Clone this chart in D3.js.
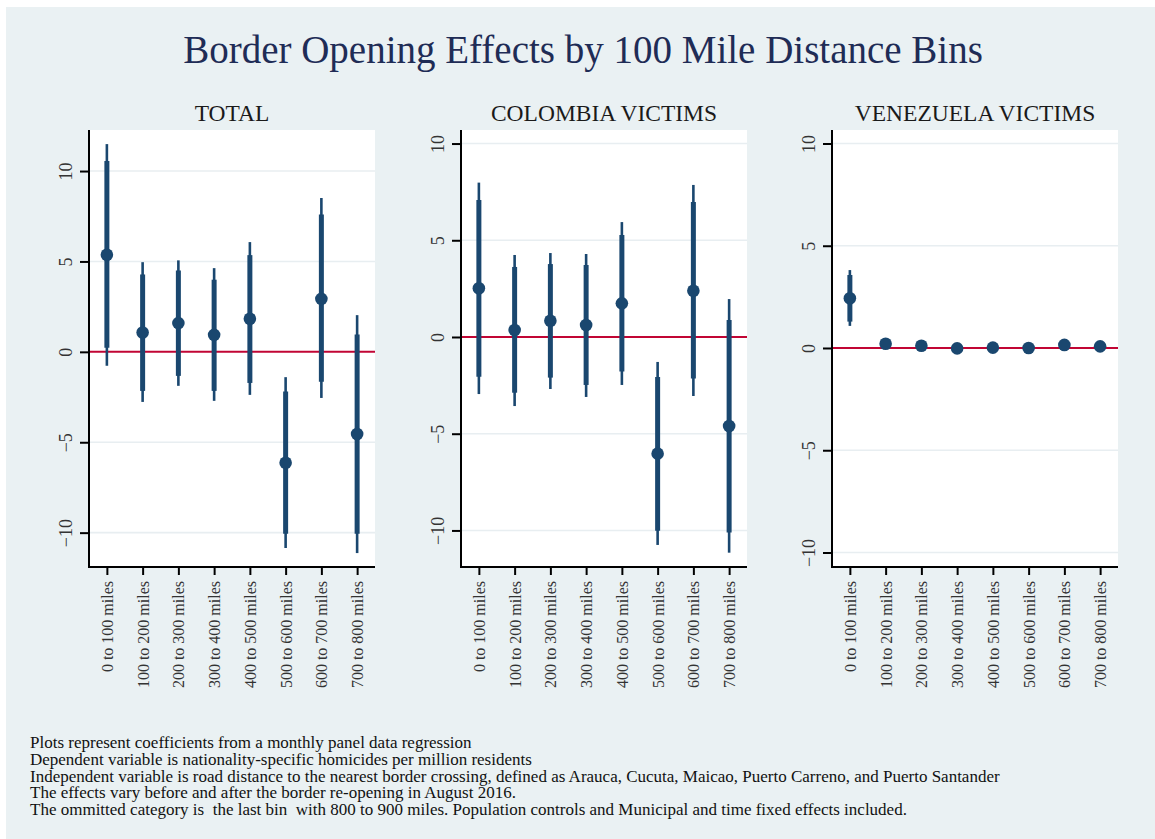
<!DOCTYPE html>
<html>
<head>
<meta charset="utf-8">
<script src="https://cdn.jsdelivr.net/npm/d3@7"></script>
<style>
  html, body { margin: 0; padding: 0; background: #ffffff; }
  svg { display: block; }
  text { font-family: "Liberation Serif", "DejaVu Serif", serif; }
</style>
</head>
<body>
<svg id="chart" width="1155" height="839"></svg>
<script>
// Distance bins (x categories)
const bins = ["0 to 100 miles", "100 to 200 miles", "200 to 300 miles", "300 to 400 miles",
              "400 to 500 miles", "500 to 600 miles", "600 to 700 miles", "700 to 800 miles"];
const yTicks = [-10, -5, 0, 5, 10];
const panelTitles = ["TOTAL", "COLOMBIA VICTIMS", "VENEZUELA VICTIMS"];

// TOTAL: point estimates, 90% (thick) and 95% (thin) intervals
const totalCoef  = [5.37, 1.07, 1.59, 0.94, 1.83, -6.13, 2.93, -4.54];
const totalLo90  = [0.22, -2.16, -1.33, -2.16, -1.72, -10.06, -1.66, -10.06];
const totalHi90  = [10.55, 4.28, 4.50, 3.99, 5.35, -2.20, 7.60, 0.96];
const totalLo95  = [-0.77, -2.77, -1.88, -2.71, -2.38, -10.85, -2.55, -11.13];
const totalHi95  = [11.49, 4.96, 5.06, 4.63, 6.07, -1.40, 8.51, 2.03];
const totalRange = [-11.9, 12.27];

// COLOMBIA VICTIMS
const colCoef  = [2.52, 0.36, 0.84, 0.62, 1.74, -6.03, 2.39, -4.60];
const colLo90  = [-2.05, -2.88, -2.10, -2.48, -1.79, -10.01, -2.15, -10.11];
const colHi90  = [7.08, 3.62, 3.77, 3.72, 5.27, -2.07, 6.98, 0.88];
const colLo95  = [-2.95, -3.57, -2.69, -3.10, -2.48, -10.75, -3.05, -11.15];
const colHi95  = [7.98, 4.24, 4.34, 4.29, 5.94, -1.29, 7.86, 1.96];
const colRange = [-11.89, 10.7];

// VENEZUELA VICTIMS
const venCoef  = [2.43, 0.21, 0.11, -0.02, 0.02, 0.0, 0.15, 0.08];
const venLo90  = [1.29, 0.05, -0.04, -0.15, -0.12, -0.13, 0.01, -0.06];
const venHi90  = [3.57, 0.37, 0.26, 0.11, 0.16, 0.13, 0.29, 0.22];
const venLo95  = [1.08, 0.02, -0.07, -0.18, -0.15, -0.16, -0.02, -0.09];
const venHi95  = [3.81, 0.40, 0.29, 0.14, 0.19, 0.16, 0.32, 0.25];
const venRange = [-10.71, 10.66];

const chartTitle = "Border Opening Effects by 100 Mile Distance Bins";
const notes = [
  "Plots represent coefficients from a monthly panel data regression",
  "Dependent variable is nationality-specific homicides per million residents",
  "Independent variable is road distance to the nearest border crossing, defined as Arauca, Cucuta, Maicao, Puerto Carreno, and Puerto Santander",
  "The effects vary before and after the border re-opening in August 2016.",
  "The ommitted category is  the last bin  with 800 to 900 miles. Population controls and Municipal and time fixed effects included."
];

const panels = [
  { title: panelTitles[0], coef: totalCoef, lo90: totalLo90, hi90: totalHi90, lo95: totalLo95, hi95: totalHi95, range: totalRange },
  { title: panelTitles[1], coef: colCoef,   lo90: colLo90,   hi90: colHi90,   lo95: colLo95,   hi95: colHi95,   range: colRange },
  { title: panelTitles[2], coef: venCoef,   lo90: venLo90,   hi90: venHi90,   lo95: venLo95,   hi95: venHi95,   range: venRange }
];

// Styling and layout
const W = 1155, H = 839;
const bgColor = "#eaf1f3";
const markColor = "#1a476f";
const zeroColor = "#c10534";
const gridColor = "#e8eef1";
const plotLefts = [89, 461, 832];
const plotW = 286, plotTop = 130, plotBottom = 567;

const svg = d3.select("#chart");

svg.append("rect").attr("x", 0).attr("y", 0).attr("width", W).attr("height", H).attr("fill", "#ffffff");
svg.append("rect").attr("x", 6).attr("y", 7).attr("width", W - 6).attr("height", H - 7).attr("fill", bgColor);

svg.append("text")
  .attr("x", 583).attr("y", 63)
  .attr("text-anchor", "middle")
  .attr("font-size", 39)
  .attr("fill", "#1f2c56")
  .text(chartTitle);

panels.forEach((p, i) => {
  const left = plotLefts[i];
  const g = svg.append("g");

  const x = d3.scalePoint().domain(bins).range([left, left + plotW]).padding(0.5);
  const y = d3.scaleLinear().domain(p.range).range([plotBottom, plotTop]);

  // plot area
  g.append("rect")
    .attr("x", left).attr("y", plotTop)
    .attr("width", plotW).attr("height", plotBottom - plotTop)
    .attr("fill", "#ffffff");

  // panel title
  g.append("text")
    .attr("x", left + plotW / 2).attr("y", 121)
    .attr("text-anchor", "middle")
    .attr("font-size", 23.5)
    .attr("fill", "#1a1a1a")
    .text(p.title);

  // horizontal grid lines
  g.selectAll(".grid").data(yTicks.filter(t => t !== 0)).join("line")
    .attr("x1", left).attr("x2", left + plotW)
    .attr("y1", d => y(d)).attr("y2", d => y(d))
    .attr("stroke", gridColor).attr("stroke-width", 1.6);

  // zero reference line
  g.append("line")
    .attr("x1", left).attr("x2", left + plotW)
    .attr("y1", y(0)).attr("y2", y(0))
    .attr("stroke", zeroColor).attr("stroke-width", 2);

  // y axis
  const yAxis = g.append("g")
    .attr("transform", `translate(${left},0)`)
    .call(d3.axisLeft(y).tickValues(yTicks).tickSize(9).tickSizeOuter(0).tickFormat(d3.format("d")));
  yAxis.select(".domain").remove();
  yAxis.selectAll(".tick line").attr("stroke", "#000").attr("stroke-width", 2);
  yAxis.selectAll(".tick text")
    .attr("x", null).attr("dy", null)
    .attr("transform", "translate(-17,0) rotate(-90)")
    .attr("text-anchor", "middle")
    .attr("font-size", 18)
    .attr("font-family", "Liberation Serif, DejaVu Serif, serif")
    .attr("fill", "#333");

  // x axis
  const xAxis = g.append("g")
    .attr("transform", `translate(0,${plotBottom})`)
    .call(d3.axisBottom(x).tickSize(8).tickSizeOuter(0));
  xAxis.select(".domain").remove();
  xAxis.selectAll(".tick line").attr("stroke", "#000").attr("stroke-width", 2);
  xAxis.selectAll(".tick text")
    .attr("y", null).attr("dy", null)
    .attr("transform", "translate(0,14) rotate(-90)")
    .attr("dy", "0.35em")
    .attr("text-anchor", "end")
    .attr("font-size", 16)
    .attr("font-family", "Liberation Serif, DejaVu Serif, serif")
    .attr("fill", "#333");

  // axis lines
  g.append("line")
    .attr("x1", left).attr("x2", left)
    .attr("y1", plotTop).attr("y2", plotBottom + 1)
    .attr("stroke", "#000").attr("stroke-width", 2);
  g.append("line")
    .attr("x1", left - 1).attr("x2", left + plotW)
    .attr("y1", plotBottom).attr("y2", plotBottom)
    .attr("stroke", "#000").attr("stroke-width", 2);

  const idx = d3.range(bins.length);

  // 95% intervals (thin)
  g.selectAll(".ci95").data(idx).join("line")
    .attr("x1", d => x(bins[d])).attr("x2", d => x(bins[d]))
    .attr("y1", d => y(p.lo95[d])).attr("y2", d => y(p.hi95[d]))
    .attr("stroke", markColor).attr("stroke-width", 2.6);

  // 90% intervals (thick)
  g.selectAll(".ci90").data(idx).join("line")
    .attr("x1", d => x(bins[d])).attr("x2", d => x(bins[d]))
    .attr("y1", d => y(p.lo90[d])).attr("y2", d => y(p.hi90[d]))
    .attr("stroke", markColor).attr("stroke-width", 5);

  // point estimates
  g.selectAll(".pt").data(idx).join("circle")
    .attr("cx", d => x(bins[d])).attr("cy", d => y(p.coef[d]))
    .attr("r", 6.3)
    .attr("fill", markColor);
});

// notes
svg.append("g").selectAll("text").data(notes).join("text")
  .attr("x", 30)
  .attr("y", (d, i) => 748 + i * 16.8)
  .attr("font-size", 17)
  .attr("fill", "#111")
  .style("white-space", "pre")
  .text(d => d);
</script>
</body>
</html>
